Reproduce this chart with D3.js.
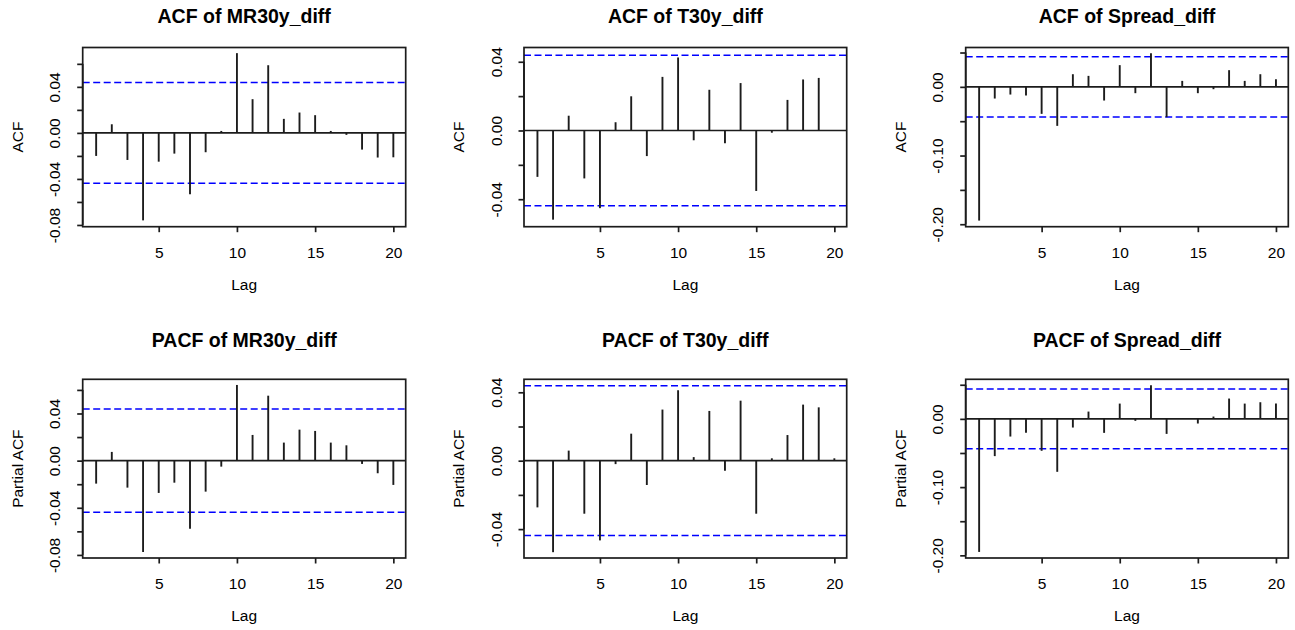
<!DOCTYPE html>
<html>
<head>
<meta charset="utf-8">
<script src="https://cdnjs.cloudflare.com/ajax/libs/d3/7.8.5/d3.min.js"></script>
<style>
  html, body { margin: 0; padding: 0; background: #ffffff; }
  svg { display: block; }
  text { font-family: "Liberation Sans", Arial, sans-serif; fill: #000; }
</style>
</head>
<body>
<svg id="chart" width="1295" height="630"></svg>
<script>
// ---------------- DATA ----------------
const lags = [1,2,3,4,5,6,7,8,9,10,11,12,13,14,15,16,17,18,19,20];
const xTicks = [5, 10, 15, 20];
const ciBound = 0.0438;

const acfMR30y = [-0.0200, 0.0075, -0.0235, -0.0760, -0.0250, -0.0180, -0.0533, -0.0168, 0.0017, 0.0693,
                  0.0293, 0.0588, 0.0122, 0.0177, 0.0154, 0.0017, -0.0017, -0.0145, -0.0214, -0.0212];
const acfT30y = [-0.0270, -0.0519, 0.0086, -0.0279, -0.0452, 0.0048, 0.0199, -0.0149, 0.0312, 0.0425,
                 -0.0057, 0.0237, -0.0075, 0.0276, -0.0352, -0.0013, 0.0178, 0.0297, 0.0306, 0.0000];
const acfSpread = [-0.1947, -0.0170, -0.0112, -0.0126, -0.0393, -0.0568, 0.0184, 0.0160, -0.0199, 0.0316,
                   -0.0092, 0.0490, -0.0442, 0.0087, -0.0092, -0.0034, 0.0243, 0.0087, 0.0184, 0.0112];
const pacfMR30y = [-0.0195, 0.0074, -0.0229, -0.0775, -0.0274, -0.0187, -0.0577, -0.0263, -0.0051, 0.0642,
                   0.0218, 0.0551, 0.0153, 0.0263, 0.0252, 0.0153, 0.0130, -0.0028, -0.0107, -0.0206];
const pacfT30y = [-0.0273, -0.0535, 0.0059, -0.0310, -0.0466, -0.0020, 0.0158, -0.0142, 0.0299, 0.0412,
                  0.0021, 0.0291, -0.0059, 0.0351, -0.0310, 0.0014, 0.0150, 0.0328, 0.0312, 0.0014];
const pacfSpread = [-0.1950, -0.0546, -0.0259, -0.0205, -0.0468, -0.0776, -0.0127, 0.0107, -0.0205, 0.0224,
                    -0.0029, 0.0493, -0.0220, 0.0005, -0.0068, 0.0034, 0.0298, 0.0224, 0.0244, 0.0224];

const ticksSmall = [-0.08, -0.06, -0.04, -0.02, 0.00, 0.02, 0.04, 0.06];
const labelsSmall = {"-0.08": "-0.08", "-0.04": "-0.04", "0": "0.00", "0.04": "0.04"};
const ticksT = [-0.04, -0.02, 0.00, 0.02, 0.04];
const labelsT = {"-0.04": "-0.04", "0": "0.00", "0.04": "0.04"};
const ticksSpread = [-0.20, -0.15, -0.10, -0.05, 0.00, 0.05];
const labelsSpread = {"-0.2": "-0.20", "-0.1": "-0.10", "0": "0.00"};

const titles = ["ACF of MR30y_diff", "ACF of T30y_diff", "ACF of Spread_diff",
                "PACF of MR30y_diff", "PACF of T30y_diff", "PACF of Spread_diff"];
const yLabels = ["ACF", "ACF", "ACF", "Partial ACF", "Partial ACF", "Partial ACF"];

// ---------------- LAYOUT ----------------
const colBox = [[82.7, 405.7], [524, 846.7], [965.7, 1288.3]];
const rowBox = [[47.5, 226.7], [379.3, 558]];
const titleBase = [22.7, 347.3];

const panels = [
  {values: acfMR30y,   ydom: [-0.0815, 0.0742], ticks: ticksSmall,  labels: labelsSmall},
  {values: acfT30y,    ydom: [-0.0560, 0.0483], ticks: ticksT,      labels: labelsT},
  {values: acfSpread,  ydom: [-0.2036, 0.0573], ticks: ticksSpread, labels: labelsSpread},
  {values: pacfMR30y,  ydom: [-0.0826, 0.0690], ticks: ticksSmall,  labels: labelsSmall},
  {values: pacfT30y,   ydom: [-0.0569, 0.0476], ticks: ticksT,      labels: labelsT},
  {values: pacfSpread, ydom: [-0.2039, 0.0580], ticks: ticksSpread, labels: labelsSpread}
];

const svg = d3.select("#chart");
const lineCol = "#1c1c1c";

panels.forEach((p, i) => {
  const col = i % 3, row = Math.floor(i / 3);
  const [x0, x1] = colBox[col];
  const [y0, y1] = rowBox[row];
  const g = svg.append("g");

  const x = d3.scaleLinear().domain([0.14, 20.79]).range([x0, x1]);
  const y = d3.scaleLinear().domain(p.ydom).range([y1, y0]);

  // title
  g.append("text")
    .attr("x", (x0 + x1) / 2).attr("y", titleBase[row])
    .attr("text-anchor", "middle")
    .style("font-size", "19.5px").style("font-weight", "bold")
    .text(titles[i]);

  // confidence bounds
  [ciBound, -ciBound].forEach(c => {
    g.append("line")
      .attr("x1", x0).attr("x2", x1)
      .attr("y1", y(c)).attr("y2", y(c))
      .attr("stroke", "#0000ff").attr("stroke-width", 1.5)
      .attr("stroke-dasharray", "7,3.5");
  });

  // zero line
  g.append("line")
    .attr("x1", x0).attr("x2", x1)
    .attr("y1", y(0)).attr("y2", y(0))
    .attr("stroke", lineCol).attr("stroke-width", 1.7);

  // spikes
  g.selectAll("line.spike").data(lags).enter().append("line")
    .attr("class", "spike")
    .attr("x1", d => x(d)).attr("x2", d => x(d))
    .attr("y1", y(0)).attr("y2", (d, k) => y(p.values[k]))
    .attr("stroke", lineCol).attr("stroke-width", 1.9);

  // x axis
  const xa = d3.axisBottom(x).tickValues(xTicks).tickSize(5.5).tickPadding(0).tickFormat(() => "");
  const gx = g.append("g").attr("transform", `translate(0,${y1})`).call(xa);
  gx.select(".domain").remove();
  gx.selectAll(".tick line").attr("stroke", lineCol).attr("stroke-width", 1.7);
  gx.selectAll(".tick").append("text")
    .attr("y", 31).attr("text-anchor", "middle")
    .style("font-size", "15.5px")
    .text(d => String(d));

  // y axis
  const ya = d3.axisLeft(y).tickValues(p.ticks).tickSize(5.5).tickFormat(() => "");
  const gy = g.append("g").attr("transform", `translate(${x0},0)`).call(ya);
  gy.select(".domain").remove();
  gy.selectAll(".tick line").attr("stroke", lineCol).attr("stroke-width", 1.7);
  gy.selectAll(".tick").append("text")
    .attr("transform", "translate(-22.5,0) rotate(-90)")
    .attr("text-anchor", "middle")
    .style("font-size", "15.5px")
    .text(d => p.labels[String(+d.toFixed(2))] || "");
  // axis line along the tick range
  g.append("line")
    .attr("x1", x0).attr("x2", x0)
    .attr("y1", y(d3.max(p.ticks))).attr("y2", y(d3.min(p.ticks)))
    .attr("stroke", lineCol).attr("stroke-width", 1.7);

  // box
  g.append("rect")
    .attr("x", x0).attr("y", y0)
    .attr("width", x1 - x0).attr("height", y1 - y0)
    .attr("fill", "none").attr("stroke", lineCol).attr("stroke-width", 1.7);

  // axis titles
  g.append("text")
    .attr("x", (x0 + x1) / 2).attr("y", y1 + 63)
    .attr("text-anchor", "middle")
    .style("font-size", "15.5px")
    .text("Lag");
  g.append("text")
    .attr("transform", `translate(${x0 - 60},${(y0 + y1) / 2}) rotate(-90)`)
    .attr("text-anchor", "middle")
    .style("font-size", "15.5px")
    .text(yLabels[i]);
});
</script>
</body>
</html>
